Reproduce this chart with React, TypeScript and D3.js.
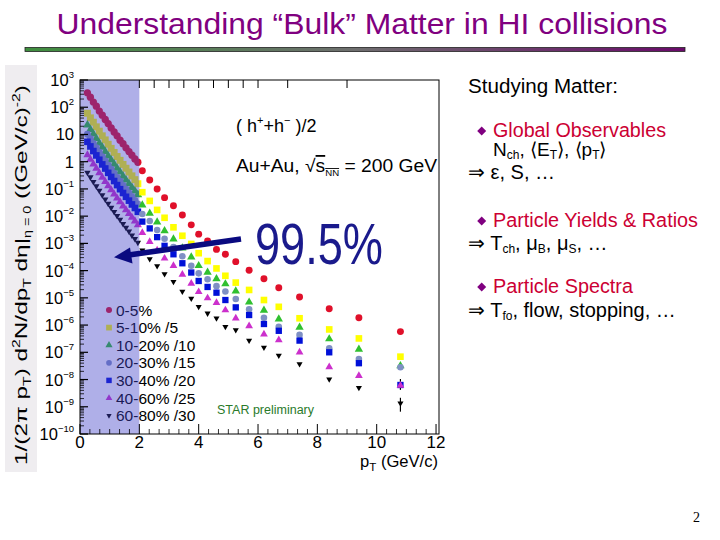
import React from 'react';
import * as d3 from 'd3';

// ---- data (log10 of yield) ----
const lowPt = [0.25, 0.35, 0.45, 0.55, 0.65, 0.75, 0.85, 0.95, 1.05, 1.15, 1.25, 1.35, 1.45, 1.55, 1.65, 1.75, 1.85, 1.95];
const highPt = [2.1, 2.35, 2.6, 2.85, 3.15, 3.45, 3.75, 4.0, 4.3, 4.6, 4.9, 5.25, 5.7, 6.2, 6.7, 7.4, 8.4, 9.4, 10.8];

const c0_5Low = [2.53, 2.37, 2.19, 2.04, 1.86, 1.71, 1.55, 1.40, 1.24, 1.09, 0.95, 0.79, 0.66, 0.51, 0.37, 0.24, 0.10, -0.02];
const c0_5High = [-0.33, -0.67, -1.00, -1.32, -1.62, -1.96, -2.32, -2.66, -2.91, -3.22, -3.40, -3.67, -3.99, -4.30, -4.63, -4.97, -5.40, -5.73, -6.24];

const c5_10Low = [1.78, 1.61, 1.45, 1.28, 1.12, 0.95, 0.80, 0.64, 0.49, 0.34, 0.19, 0.05, -0.10, -0.24, -0.38, -0.52, -0.66, -0.81];
const c5_10High = [-1.12, -1.44, -1.77, -2.06, -2.41, -2.72, -3.02, -3.36, -3.65, -3.92, -4.19, -4.44, -4.71, -5.08, -5.33, -5.75, -6.16, -6.49, -7.16];

const c10_20Low = [1.35, 1.18, 1.02, 0.85, 0.68, 0.53, 0.37, 0.21, 0.06, -0.09, -0.24, -0.38, -0.53, -0.67, -0.81, -0.95, -1.08, -1.21];
const c10_20High = [-1.59, -1.90, -2.22, -2.54, -2.84, -3.17, -3.50, -3.82, -4.06, -4.30, -4.49, -4.75, -5.16, -5.46, -5.78, -6.08, -6.51, -6.89, -7.50];

const c20_30Low = [1.01, 0.84, 0.67, 0.51, 0.35, 0.18, 0.03, -0.13, -0.28, -0.43, -0.58, -0.72, -0.87, -1.01, -1.15, -1.29, -1.42, -1.55];
const c20_30High = [-1.92, -2.18, -2.51, -2.83, -3.13, -3.47, -3.82, -4.10, -4.32, -4.57, -4.77, -5.04, -5.42, -5.73, -6.06, -6.36, -6.85, -7.25, -7.55];

const c30_40Low = [0.73, 0.56, 0.39, 0.23, 0.07, -0.10, -0.25, -0.41, -0.56, -0.71, -0.86, -1.01, -1.15, -1.29, -1.43, -1.57, -1.70, -1.84];
const c30_40High = [-2.20, -2.45, -2.77, -3.09, -3.40, -3.73, -4.07, -4.38, -4.60, -4.81, -5.08, -5.35, -5.63, -5.96, -6.21, -6.57, -7.00, -7.40, -8.20];

const c40_60Low = [0.25, 0.08, -0.09, -0.25, -0.41, -0.58, -0.73, -0.89, -1.04, -1.19, -1.34, -1.48, -1.63, -1.77, -1.91, -2.05, -2.18, -2.32];
const c40_60High = [-2.61, -2.94, -3.25, -3.55, -3.82, -4.14, -4.47, -4.78, -5.01, -5.18, -5.45, -5.75, -6.03, -6.34, -6.55, -7.00, -7.54, -7.86, -8.22];

const c60_80Low = [-0.40, -0.57, -0.74, -0.90, -1.06, -1.23, -1.38, -1.54, -1.69, -1.84, -1.99, -2.13, -2.28, -2.42, -2.56, -2.70, -2.83, -2.97];
const c60_80High = [-3.25, -3.57, -3.83, -4.12, -4.41, -4.77, -5.02, -5.33, -5.57, -5.75, -6.06, -6.18, -6.57, -6.82, -7.12, -7.43, -7.99, -8.30, -8.87];

// error bars at the last pT point: [series index, pT, log10 low, log10 high]
const errorBars: [number, number, number, number][] = [
  [5, 10.8, -8.38, -7.98],
  [6, 10.8, -9.18, -8.67],
];

const legendLabels = ['0-5%', '5-10% /5', '10-20% /10', '20-30% /15', '30-40% /20', '40-60% /25', '60-80% /30'];
const yExponents = [3, 2, 1, 0, -1, -2, -3, -4, -5, -6, -7, -8, -9, -10];
const xTickValues = [0, 2, 4, 6, 8, 10, 12];
const topTickValues = [2, 2.5, 3, 3.5, 4, 4.5, 5, 5.5, 6, 7, 9];

type Shape = 'circle' | 'square' | 'triangle' | 'down';
const seriesStyle: { color: string; shape: Shape; size: number }[] = [
  { color: '#e0102a', shape: 'circle', size: 38 },
  { color: '#ffff00', shape: 'square', size: 44 },
  { color: '#30c030', shape: 'triangle', size: 30 },
  { color: '#7f90c4', shape: 'circle', size: 34 },
  { color: '#0010d8', shape: 'square', size: 40 },
  { color: '#cc30cc', shape: 'triangle', size: 26 },
  { color: '#000000', shape: 'down', size: 16 },
];
const lowData = [c0_5Low, c5_10Low, c10_20Low, c20_30Low, c30_40Low, c40_60Low, c60_80Low];
const highData = [c0_5High, c5_10High, c10_20High, c20_30High, c30_40High, c40_60High, c60_80High];

const FONT = '"Liberation Sans", Arial, Helvetica, sans-serif';

function symbolPath(shape: Shape, size: number) {
  const t = shape === 'circle' ? d3.symbolCircle : shape === 'square' ? d3.symbolSquare : d3.symbolTriangle;
  return d3.symbol().type(t).size(size)() as string;
}

export default function App() {
  const x = d3.scaleLinear().domain([0, 12.1]).range([80, 439]);
  const y = d3.scaleLog().domain([1e-10, 1e3]).range([434, 80]);
  const pow = (v: number) => Math.pow(10, v);

  const minorY: number[] = [];
  for (let e = -10; e < 3; e++) for (let k = 2; k <= 9; k++) minorY.push(k * Math.pow(10, e));
  const minorX: number[] = [];
  for (let i = 1; i < 36; i++) if (i % 6 !== 0) minorX.push(i / 3);

  const marker = (si: number, px: number, py: number, key: string, scale = 1) => {
    const s = seriesStyle[si];
    return (
      <path
        key={key}
        d={symbolPath(s.shape, s.size * scale)}
        transform={`translate(${px},${py})${s.shape === 'down' ? ' rotate(180)' : ''}`}
        fill={s.color}
      />
    );
  };

  const sub = 12;
  const diamond = (cy: number) => `M481.7,${cy - 4.5} l4.5,4.5 l-4.5,4.5 l-4.5,-4.5 Z`;

  return (
    <svg width={720} height={540} style={{ position: 'absolute', left: 0, top: 0, background: '#fff' }} fontFamily={FONT}>
      <defs>
        <linearGradient id="bar" x1="0" x2="1" y1="0" y2="0">
          <stop offset="0" stopColor="#3f8f3f" />
          <stop offset="0.5" stopColor="#6f6f6f" />
          <stop offset="1" stopColor="#6a0a6a" />
        </linearGradient>
      </defs>
      <rect x={0} y={0} width={720} height={540} fill="#fff" />
      {/* Title */}
      <text x={362} y={34} textAnchor="middle" fontSize={29} fill="#800080" textLength={611} lengthAdjust="spacingAndGlyphs">
        Understanding “Bulk” Matter in HI collisions
      </text>
      <rect x={25} y={47.5} width={660} height={4} fill="url(#bar)" stroke="#222" strokeWidth={0.8} />

      {/* y label panel */}
      <rect x={5} y={65} width={32} height={407} fill="#efedf0" />
      <text transform="translate(27,275) rotate(-90)" textAnchor="middle" fontSize={17} fill="#000" textLength={380} lengthAdjust="spacingAndGlyphs">
        1/(2π p<tspan fontSize={11} dy={4}>T</tspan><tspan dy={-4}>)  d</tspan><tspan fontSize={11} dy={-7}>2</tspan><tspan dy={7}>N/dp</tspan><tspan fontSize={11} dy={4}>T</tspan><tspan dy={-4}> dη|</tspan><tspan fontSize={10} dy={4}>η = 0</tspan><tspan dy={-4}> ((GeV/c)</tspan><tspan fontSize={11} dy={-7}>-2</tspan><tspan dy={7}>)</tspan>
      </text>

      {/* markers */}
      {lowData.map((arr, si) => arr.map((v, i) => marker(si, x(lowPt[i]), y(pow(v)), `l${si}-${i}`, 1.1)))}
      {errorBars.map(([si, pt, lo, hi], i) => (
        <line key={`e${i}`} x1={x(pt)} x2={x(pt)} y1={y(pow(lo))} y2={y(pow(hi))} stroke="#000" strokeWidth={1.2} />
      ))}
      {highData.map((arr, si) => arr.map((v, i) => marker(si, x(highPt[i]), y(pow(v)), `h${si}-${i}`)))}

      {/* legend */}
      {legendLabels.map((lab, i) => (
        <g key={lab}>
          {marker(i, 109, 310 + i * 17.6, `lg${i}`, 0.75)}
          <text x={116} y={310 + i * 17.6 + 5.5} fontSize={15.5} fill="#000">{lab}</text>
        </g>
      ))}

      {/* shaded region */}
      <rect x={x(0)} y={80} width={x(2) - x(0)} height={354} fill="#4040c8" opacity={0.42} />

      {/* frame and ticks */}
      <rect x={80} y={80} width={359} height={354} fill="none" stroke="#000" strokeWidth={1} />
      {yExponents.map(e => (
        <line key={`ym${e}`} x1={80} x2={88} y1={y(pow(e))} y2={y(pow(e))} stroke="#000" strokeWidth={1.2} />
      ))}
      {minorY.map((v, i) => (
        <line key={`yn${i}`} x1={80} x2={84} y1={y(v)} y2={y(v)} stroke="#000" strokeWidth={0.8} />
      ))}
      {xTickValues.map(v => (
        <line key={`xm${v}`} x1={x(v)} x2={x(v)} y1={434} y2={424} stroke="#000" strokeWidth={1} />
      ))}
      {minorX.map((v, i) => (
        <line key={`xn${i}`} x1={x(v)} x2={x(v)} y1={434} y2={429} stroke="#000" strokeWidth={0.8} />
      ))}
      {topTickValues.map(v => (
        <line key={`xt${v}`} x1={x(v)} x2={x(v)} y1={80} y2={88} stroke="#000" strokeWidth={1} />
      ))}

      {/* y tick labels */}
      {yExponents.map(e => (
        <text key={`yl${e}`} x={74} y={y(pow(e)) + 6} textAnchor="end" fontSize={16.5} fill="#000">
          {e === 0 ? '1' : e === 1 ? '10' : (<>10<tspan fontSize={9.5} dy={-8}>{String(e).replace('-', '−')}</tspan></>)}
        </text>
      ))}
      {/* x tick labels */}
      {xTickValues.map(v => (
        <text key={`xl${v}`} x={x(v)} y={448} textAnchor="middle" fontSize={17} fill="#000">{v}</text>
      ))}
      <text x={360} y={467} fontSize={16.5} fill="#000" textLength={78} lengthAdjust="spacingAndGlyphs">
        p<tspan fontSize={11.5} dy={4}>T</tspan><tspan dy={-4}> (GeV/c)</tspan>
      </text>

      {/* annotations in the plot */}
      <text x={236} y={132} fontSize={18} fill="#000">
        ( h<tspan fontSize={11} dy={-8}>+</tspan><tspan dy={8}>+h</tspan><tspan fontSize={11} dy={-8}>−</tspan><tspan dy={8}> )/2</tspan>
      </text>
      <text x={236} y={172} fontSize={18} fill="#000" textLength={201} lengthAdjust="spacingAndGlyphs">
        Au+Au, √<tspan style={{ textDecoration: 'overline' }}>s<tspan fontSize={9} dy={4}>NN</tspan></tspan><tspan dy={-4}> = 200 GeV</tspan>
      </text>
      <text x={217} y={414} fontSize={12.5} fill="#2a7a2a">STAR preliminary</text>

      {/* arrow and 99.5% */}
      <line x1={241} y1={239} x2={127} y2={255.3} stroke="#0a0a80" strokeWidth={5.5} />
      <path d="M114,257.2 L130,247.5 L132.5,263.5 Z" fill="#0a0a80" />
      <text x={255} y={264} fontSize={58} fill="#1a1a8c" textLength={128} lengthAdjust="spacingAndGlyphs">99.5%</text>

      {/* right-hand text */}
      <g fontSize={20} fill="#000">
        <text x={468} y={93} textLength={150} lengthAdjust="spacingAndGlyphs">Studying Matter:</text>
        <path d={diamond(131)} fill="#800080" />
        <text x={493} y={137} fill="#cc0033" textLength={173} lengthAdjust="spacingAndGlyphs">Global Observables</text>
        <text x={493} y={156} fontSize={19}>N<tspan fontSize={sub} dy={3}>ch</tspan><tspan dy={-3}>, ⟨E</tspan><tspan fontSize={sub} dy={3}>T</tspan><tspan dy={-3}>⟩, ⟨p</tspan><tspan fontSize={sub} dy={3}>T</tspan><tspan dy={-3}>⟩</tspan></text>
        <text x={468} y={179}>⇒ ε, S, …</text>
        <path d={diamond(221)} fill="#800080" />
        <text x={493} y={227} fill="#cc0033" textLength={205} lengthAdjust="spacingAndGlyphs">Particle Yields &amp; Ratios</text>
        <text x={468} y={250}>⇒ T<tspan fontSize={sub} dy={3}>ch</tspan><tspan dy={-3}>, μ</tspan><tspan fontSize={sub} dy={3}>B</tspan><tspan dy={-3}>, μ</tspan><tspan fontSize={sub} dy={3}>S</tspan><tspan dy={-3}>, …</tspan></text>
        <path d={diamond(287)} fill="#800080" />
        <text x={493} y={293} fill="#cc0033" textLength={140} lengthAdjust="spacingAndGlyphs">Particle Spectra</text>
        <text x={468} y={317}>⇒ T<tspan fontSize={sub} dy={3}>fo</tspan><tspan dy={-3}>, flow, stopping, …</tspan></text>
      </g>
      <text x={693} y={522} fontSize={14} fontFamily="serif" fill="#000">2</text>
    </svg>
  );
}
